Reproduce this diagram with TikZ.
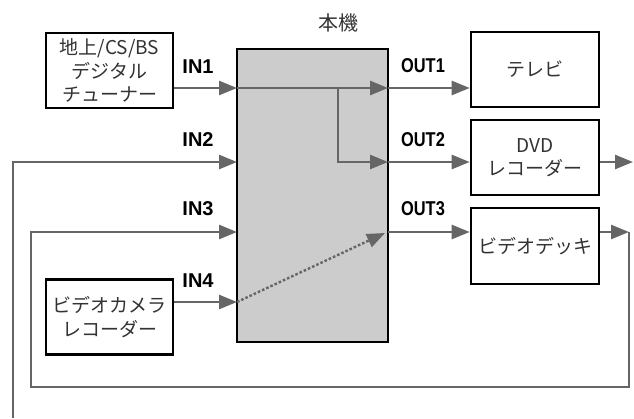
\documentclass[tikz,border=0pt]{standalone}
\usepackage{fontspec}
\setmainfont{Liberation Sans}
\newfontfamily\jp{Noto Sans CJK JP}
\usetikzlibrary{arrows.meta}
\definecolor{ln}{HTML}{666666}
\definecolor{fillg}{HTML}{CCCCCC}
\definecolor{txt}{HTML}{333333}
\begin{document}
\begin{tikzpicture}[x=1pt,y=-1pt,
  box/.style={draw=black,line width=2.6pt,fill=white,rectangle,inner sep=0pt,
    minimum width=127pt,minimum height=75pt,align=center,
    font=\jp\fontsize{19}{23.5}\selectfont,text=txt},
  conn/.style={draw=ln,line width=2.6pt},
  arr/.style={conn,-{Triangle[length=18pt,width=14pt]}},
  lab/.style={font=\bfseries\fontsize{20}{20}\selectfont,inner sep=0pt,anchor=center}]
\useasboundingbox (0,0) rectangle (634,418);
% main unit
\node[draw=black,line width=2.6pt,fill=fillg,minimum width=151pt,minimum height=293pt,inner sep=0pt] (main) at (312.5,195.5) {};
\node[font=\jp\fontsize{20}{20}\selectfont,text=txt] (title) at (338,23) {本機};
% boxes
\node[box] (tuner) at (109.5,70.5) {地上/CS/BS\\デジタル\\チューナー};
\node[box] (cam) at (109.5,317) {ビデオカメラ\\レコーダー};
\node[box,minimum width=128pt] (tv) at (535,69.5) {テレビ};
\node[box,minimum width=128pt] (dvd) at (535,157.5) {DVD\\レコーダー};
\node[box,minimum width=128pt,minimum height=76pt] (deck) at (535,246) {ビデオデッキ};
% coordinates
\coordinate (in1) at (237,88);
\coordinate (in2) at (237,162);
\coordinate (in3) at (237,232);
\coordinate (in4) at (237,302);
\coordinate (o1) at (388,88);
\coordinate (o2) at (388,162);
\coordinate (o3) at (388,232);
\coordinate (br) at (338,88);
\coordinate (dot) at (385,233);
\coordinate (loopR) at (629,232);
\coordinate (dvdR) at (633,162);
\coordinate (bot2) at (13,418);
% connectors
\draw[arr] (tuner.east |- in1) -- (in1);
\draw[arr] (in1) -- (o1);
\draw[arr] (o1) -- (tv.west |- o1);
\draw[arr] (br) |- (o2);
\draw[arr] (o2) -- (dvd.west |- o2);
\draw[arr] (dvd.east |- o2) -- (dvdR);
\draw[arr] (bot2) |- (in2);
\draw[arr] (o3) -- (deck.west |- o3);
\draw[arr] (deck.east |- o3) -- (loopR);
\draw[arr] (loopR) -- (629,387) -- (31,387) |- (in3);
\draw[arr] (cam.east |- in4) -- (in4);
\draw[conn,dotted,line width=2.4pt,-{Triangle[length=18pt,width=14pt]}] (in4) -- (dot);
% labels
\node[lab] (l1) at (198,67) {IN1};
\node[lab] (l2) at (198,140) {IN2};
\node[lab] (l3) at (198,209) {IN3};
\node[lab] (l4) at (198,281) {IN4};
\node[lab,xscale=0.82] (m1) at (423,66) {OUT1};
\node[lab,xscale=0.82] (m2) at (423,140) {OUT2};
\node[lab,xscale=0.82] (m3) at (423,209) {OUT3};
\end{tikzpicture}
\end{document}
